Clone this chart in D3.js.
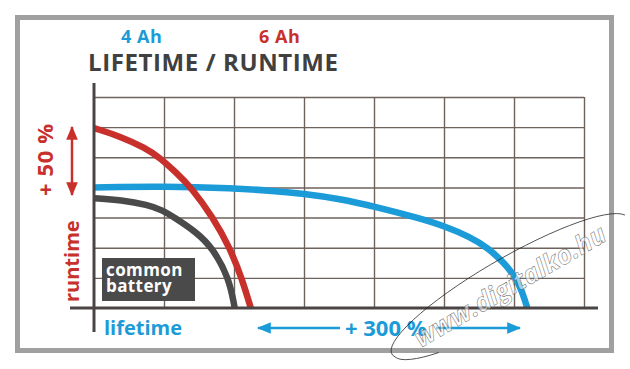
<!DOCTYPE html>
<html lang="en">
<head>
    <meta charset="UTF-8">
    <title>Lifetime / Runtime</title>
    <script src="https://d3js.org/d3.v7.min.js"></script>
    <style>
        body { margin: 0; background: #fff; }
        text { font-family: "Open Sans", "DejaVu Sans", sans-serif; font-weight: 700; }
        .grid line { stroke: #6e625c; stroke-width: 1.4; }
        .grid .domain { display: none; }
        .curve { fill: none; stroke-width: 6.5; }
    </style>
</head>
<body>
    <svg id="chart"></svg>

    <script>
        // grid: 7 columns (lifetime) x 7 rows (runtime)
        var xTicks = [0, 1, 2, 3, 4, 5, 6, 7];
        var yTicks = [0, 1, 2, 3, 4, 5, 6, 7];

        // common battery
        var commonLife = [0, 0.39, 0.77, 0.97, 1.15, 1.47, 1.69, 1.93, 2.01];
        var commonRun  = [3.64, 3.58, 3.42, 3.25, 3.0, 2.5, 2.0, 1.0, 0];

        // 4 Ah
        var ah4Life = [0, 1.01, 2.01, 2.49, 3.0, 3.51, 4.0, 4.66, 5.0, 5.37, 5.63, 5.86, 6.0, 6.11, 6.19];
        var ah4Run  = [4.0, 4.04, 3.97, 3.90, 3.79, 3.62, 3.37, 2.97, 2.72, 2.36, 1.99, 1.49, 1.09, 0.6, 0];

        // 6 Ah
        var ah6Life = [0, 0.39, 0.73, 0.94, 1.17, 1.39, 1.70, 1.94, 2.11, 2.24];
        var ah6Run  = [5.97, 5.68, 5.31, 4.99, 4.5, 4.0, 3.0, 2.0, 1.0, 0];

        var width = 630;
        var height = 369;

        var svg = d3.select("#chart")
                    .attr("width", width)
                    .attr("height", height);

        var x = d3.scaleLinear().domain([0, 7]).range([94, 584]);
        var y = d3.scaleLinear().domain([0, 7]).range([308, 97]);

        // frame
        svg.append("rect")
           .attr("x", 17.5).attr("y", 17.5)
           .attr("width", 594).attr("height", 333)
           .attr("fill", "#fff")
           .attr("stroke", "#a0a0a0")
           .attr("stroke-width", 5);

        // arrow heads
        var defs = svg.append("defs");
        [["red", "#c8302c"], ["blue", "#1b9bd7"]].forEach(function(c) {
            defs.append("marker")
                .attr("id", "head-" + c[0])
                .attr("viewBox", "0 0 12 10")
                .attr("refX", 11).attr("refY", 5)
                .attr("markerWidth", 5.6).attr("markerHeight", 4.8)
                .attr("orient", "auto-start-reverse")
                .append("path")
                .attr("d", "M0,0L12,5L0,10z")
                .attr("fill", c[1]);
        });

        // grid via axes
        svg.append("g")
           .attr("class", "grid")
           .attr("transform", "translate(0," + y(0) + ")")
           .call(d3.axisBottom(x).tickValues(xTicks.slice(1)).tickSize(y(7) - y(0)).tickFormat(""));

        svg.append("g")
           .attr("class", "grid")
           .attr("transform", "translate(" + x(0) + ",0)")
           .call(d3.axisLeft(y).tickValues(yTicks.slice(1)).tickSize(x(0) - x(7)).tickFormat(""));

        // curves
        var line = d3.line()
                     .x(function(d) { return x(d[0]); })
                     .y(function(d) { return y(d[1]); })
                     .curve(d3.curveBasis);

        var series = [
            { life: commonLife, run: commonRun, color: "#4a4a4a" },
            { life: ah4Life, run: ah4Run, color: "#1b9bd7" },
            { life: ah6Life, run: ah6Run, color: "#c8302c" }
        ];

        svg.selectAll(".curve")
           .data(series)
           .enter().append("path")
           .attr("class", "curve")
           .attr("stroke", function(d) { return d.color; })
           .attr("d", function(d) { return line(d3.zip(d.life, d.run)); });

        // axes
        svg.append("line")
           .attr("x1", x(0) - 24).attr("x2", x(7) + 14)
           .attr("y1", y(0)).attr("y2", y(0))
           .attr("stroke", "#4a4544").attr("stroke-width", 3);
        svg.append("line")
           .attr("x1", x(0)).attr("x2", x(0))
           .attr("y1", y(7) - 14).attr("y2", y(0) + 24)
           .attr("stroke", "#4a4544").attr("stroke-width", 3);

        // common battery label
        svg.append("rect")
           .attr("x", 102).attr("y", 258)
           .attr("width", 93).attr("height", 43)
           .attr("fill", "#4a4a4a");
        var cb = svg.append("text")
           .attr("fill", "#fff").attr("font-size", 17)
           .attr("letter-spacing", 0.4);
        cb.append("tspan").attr("x", 106).attr("y", 276).text("common");
        cb.append("tspan").attr("x", 106).attr("y", 292).text("battery");

        // titles
        svg.append("text")
           .attr("x", 88).attr("y", 71)
           .attr("fill", "#404040").attr("font-size", 24)
           .attr("letter-spacing", 0.6)
           .text("LIFETIME / RUNTIME");
        svg.append("text")
           .attr("x", 121).attr("y", 43)
           .attr("fill", "#1b9bd7").attr("font-size", 18)
           .attr("letter-spacing", 0.5)
           .text("4 Ah");
        svg.append("text")
           .attr("x", 259).attr("y", 43)
           .attr("fill", "#c8302c").attr("font-size", 18)
           .attr("letter-spacing", 0.5)
           .text("6 Ah");

        // runtime side
        svg.append("text")
           .attr("transform", "translate(53,196) rotate(-90)")
           .attr("fill", "#c8302c").attr("font-size", 22)
           .attr("letter-spacing", 0.6)
           .text("+ 50 %");
        svg.append("text")
           .attr("transform", "translate(79,302) rotate(-90)")
           .attr("fill", "#c8302c").attr("font-size", 20)
           .text("runtime");
        svg.append("line")
           .attr("x1", 72).attr("x2", 72)
           .attr("y1", 127).attr("y2", 195)
           .attr("stroke", "#c8302c").attr("stroke-width", 2.5)
           .attr("marker-start", "url(#head-red)")
           .attr("marker-end", "url(#head-red)");

        // lifetime side
        svg.append("text")
           .attr("x", 104).attr("y", 335)
           .attr("fill", "#1b9bd7").attr("font-size", 20)
           .text("lifetime");
        svg.append("text")
           .attr("x", 345).attr("y", 336)
           .attr("fill", "#1b9bd7").attr("font-size", 22)
           .text("+ 300 %");
        svg.append("line")
           .attr("x1", 258).attr("x2", 340)
           .attr("y1", 328).attr("y2", 328)
           .attr("stroke", "#1b9bd7").attr("stroke-width", 2.5)
           .attr("marker-start", "url(#head-blue)");
        svg.append("line")
           .attr("x1", 436).attr("x2", 520)
           .attr("y1", 328).attr("y2", 328)
           .attr("stroke", "#1b9bd7").attr("stroke-width", 2.5)
           .attr("marker-end", "url(#head-blue)");

        // watermark
        var wm = svg.append("g").attr("transform", "translate(510,286) rotate(-30)");
        wm.append("path")
          .attr("d", "M-135,4 A135,28 0 0 1 135,-4")
          .attr("fill", "none").attr("stroke", "#222").attr("stroke-width", 0.7);
        wm.append("path")
          .attr("d", "M-135,4 A135,28 0 0 0 -95,22")
          .attr("fill", "none").attr("stroke", "#222").attr("stroke-width", 0.7);
        wm.append("text")
          .attr("text-anchor", "middle").attr("y", 9)
          .attr("font-family", "'Liberation Sans Narrow', 'Liberation Sans', sans-serif")
          .attr("font-size", 26).attr("font-weight", 400)
          .attr("font-style", "italic")
          .attr("fill", "#fff").attr("fill-opacity", 0.55)
          .attr("stroke", "#555").attr("stroke-width", 0.45)
          .text("www.digitalko.hu");
    </script>
</body>
</html>
